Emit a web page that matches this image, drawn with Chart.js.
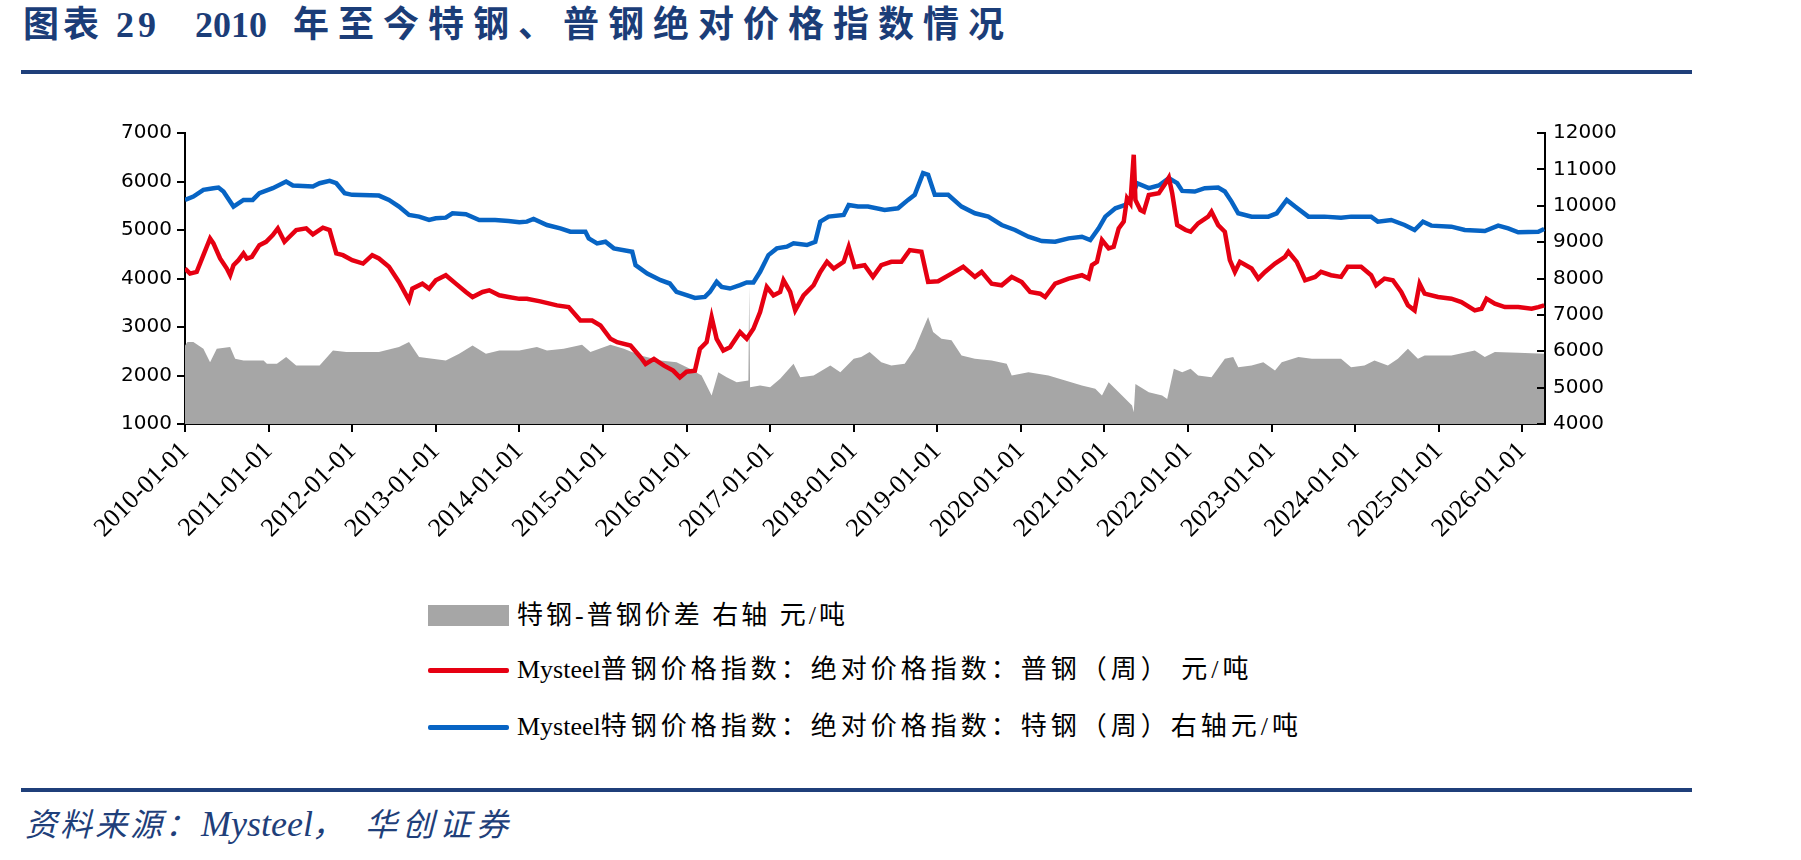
<!DOCTYPE html>
<html><head><meta charset="utf-8">
<script src="https://cdn.jsdelivr.net/npm/chart.js@4.4.1/dist/chart.umd.min.js"></script>
<style>
body{margin:0;background:#fff;}
#wrap{position:relative;width:1801px;height:860px;overflow:hidden;background:#fff}
.t{position:absolute;white-space:nowrap;line-height:1}
.title{font-family:"Liberation Serif","Noto Sans CJK SC",serif;font-weight:bold;font-size:36px;color:#1B3D78}
.leg{font-family:"Liberation Serif","Noto Sans CJK SC",serif;font-size:26px;letter-spacing:4px;color:#000}
.leg .lat{letter-spacing:0}
.src{font-family:'Liberation Serif','Noto Sans CJK SC',serif;font-style:italic;font-size:32px;color:#1F3F7A}
.rule{position:absolute;left:21px;width:1671px;height:4px;background:#1F3F7A}
</style></head><body>
<div id="wrap">
  <div class="t title" style="left:23px;top:7px;letter-spacing:4px">图表 29</div>
  <div class="t title" style="left:195px;top:7px">2010</div>
  <div class="t title" style="left:293px;top:7px;letter-spacing:9px">年至今特钢、普钢绝对价格指数情况</div>
  <div class="rule" style="top:70px"></div>
  <canvas id="c" width="1801" height="560" style="position:absolute;left:0;top:0"></canvas>
  <div style="position:absolute;left:428px;top:605px;width:81px;height:21px;background:#A6A6A6"></div>
  <div class="t leg" style="left:517px;top:603px;letter-spacing:3px">特钢-普钢价差 右轴 元/吨</div>
  <div style="position:absolute;left:428px;top:668px;width:81px;height:5px;background:#E60012;border-radius:2px"></div>
  <div class="t leg" style="left:517px;top:657px"><span class="lat">Mysteel</span>普钢价格指数：绝对价格指数：普钢（周） 元/吨</div>
  <div style="position:absolute;left:428px;top:725px;width:81px;height:5px;background:#0764C4;border-radius:2px"></div>
  <div class="t leg" style="left:517px;top:714px"><span class="lat">Mysteel</span>特钢价格指数：绝对价格指数：特钢（周）右轴元/吨</div>
  <div class="rule" style="top:788px"></div>
  <div class="t src" style="left:25px;top:809px;letter-spacing:3px">资料来源：</div>
  <div class="t src" style="left:201px;top:806px;font-size:36px">Mysteel</div>
  <div class="t src" style="left:312px;top:809px">，</div>
  <div class="t src" style="left:365px;top:809px;letter-spacing:5px">华创证券</div>
</div>
<script>
// ---- tick labels ----
const tickYears = [2010,2011,2012,2013,2014,2015,2016,2017,2018,2019,2020,2021,2022,2023,2024,2025,2026];
const tickLabels = ['2010-01-01','2011-01-01','2012-01-01','2013-01-01','2014-01-01','2015-01-01','2016-01-01','2017-01-01','2018-01-01','2019-01-01','2020-01-01','2021-01-01','2022-01-01','2023-01-01','2024-01-01','2025-01-01','2026-01-01'];
const leftTicks = [1000,2000,3000,4000,5000,6000,7000];
const rightTicks = [4000,5000,6000,7000,8000,9000,10000,11000,12000];

// ---- 普钢 (left axis), x in decimal years ----
const plainDates = [2010.00,2010.06,2010.14,2010.22,2010.30,2010.34,2010.42,2010.50,2010.54,2010.58,2010.64,2010.70,2010.74,2010.80,2010.89,2010.97,
2011.05,2011.11,2011.19,2011.25,2011.33,2011.45,2011.53,2011.65,2011.73,2011.81,2011.89,
2012.00,2012.13,2012.24,2012.32,2012.44,2012.56,2012.68,2012.72,2012.84,2012.92,
2013.00,2013.12,2013.24,2013.36,2013.44,2013.56,2013.64,2013.76,2013.87,
2014.00,2014.09,2014.25,2014.45,2014.59,2014.73,2014.87,2014.97,
2015.09,2015.17,2015.33,2015.45,2015.51,2015.61,2015.73,2015.84,2015.92,
2016.00,2016.10,2016.16,2016.24,2016.30,2016.36,2016.44,2016.52,2016.64,2016.72,2016.80,2016.88,2016.96,
2017.04,2017.12,2017.16,2017.24,2017.30,2017.40,2017.52,2017.60,2017.68,2017.76,2017.88,2017.94,
2018.01,2018.13,2018.23,2018.33,2018.45,2018.57,2018.67,2018.81,2018.89,
2019.01,2019.17,2019.31,2019.45,2019.53,2019.65,2019.77,2019.89,
2020.01,2020.11,2020.23,2020.29,2020.41,2020.57,2020.73,2020.81,2020.85,2020.91,2020.97,
2021.05,2021.11,2021.17,2021.23,2021.27,2021.31,2021.35,2021.37,2021.43,2021.47,2021.53,2021.65,2021.73,2021.77,2021.81,2021.87,2021.97,
2022.03,2022.12,2022.24,2022.28,2022.36,2022.44,2022.50,2022.56,2022.62,2022.76,2022.84,2022.92,
2023.04,2023.16,2023.20,2023.30,2023.40,2023.52,2023.59,2023.71,2023.83,2023.91,
2024.07,2024.19,2024.25,2024.35,2024.45,2024.55,2024.63,2024.71,2024.77,2024.83,2024.99,
2025.15,2025.27,2025.43,2025.51,2025.57,2025.67,2025.79,2025.95,2026.11,2026.19,2026.26];
const plainSteel = [4205,4101,4136,4481,4826,4723,4412,4205,4067,4274,4377,4516,4412,4447,4688,4757,
4895,5033,4757,4861,4999,5033,4909,5047,4999,4516,4481,
4377,4308,4481,4412,4240,3929,3549,3791,3894,3791,
3963,4067,3894,3722,3618,3722,3756,3653,3618,
3580,3584,3529,3446,3411,3135,3135,3032,
2756,2687,2618,2376,2238,2342,2204,2100,1962,
2079,2100,2549,2687,3204,2756,2514,2583,2894,2756,2963,3308,3825,
3653,3722,3963,3722,3342,3653,3860,4136,4343,4205,4343,4654,
4240,4274,4033,4274,4343,4343,4585,4550,3929,
3943,4101,4240,4033,4136,3894,3860,4033,
3929,3722,3687,3618,3894,3998,4067,3998,4274,4343,4792,
4619,4654,5033,5171,5654,5551,6551,5620,5413,5378,5723,5758,5965,6082,5758,5102,4999,
4964,5137,5275,5378,5102,4964,4377,4136,4343,4205,3998,4136,
4308,4447,4550,4343,3963,4033,4136,4067,4033,4240,
4240,4067,3860,3998,3963,3722,3446,3342,3894,3687,3618,
3584,3515,3342,3377,3584,3480,3411,3411,3377,3411,3446];

// ---- 特钢 (right axis) ----
const specialDates = [2010.00,2010.10,2010.22,2010.34,2010.40,2010.46,2010.58,2010.70,2010.81,2010.89,
2011.05,2011.21,2011.29,2011.53,2011.61,2011.73,2011.81,2011.91,
2012.00,2012.32,2012.44,2012.56,2012.68,2012.80,2012.92,
2013.00,2013.12,2013.20,2013.36,2013.52,2013.71,2013.87,
2014.00,2014.09,2014.17,2014.33,2014.49,2014.61,2014.79,2014.83,2014.93,
2015.03,2015.13,2015.35,2015.39,2015.53,2015.69,2015.80,2015.88,
2016.00,2016.10,2016.22,2016.28,2016.36,2016.42,2016.52,2016.64,2016.72,2016.80,2016.88,2016.98,
2017.08,2017.20,2017.28,2017.44,2017.54,2017.60,2017.70,2017.88,2017.94,
2018.05,2018.17,2018.37,2018.53,2018.65,2018.73,2018.83,2018.89,2018.97,
2019.13,2019.29,2019.45,2019.61,2019.77,2019.93,
2020.09,2020.25,2020.41,2020.57,2020.73,2020.83,2020.93,
2021.01,2021.13,2021.25,2021.33,2021.39,2021.53,2021.65,2021.77,2021.87,2021.93,
2022.08,2022.20,2022.36,2022.44,2022.52,2022.60,2022.76,2022.96,
2023.06,2023.18,2023.28,2023.44,2023.63,2023.83,2023.95,
2024.19,2024.27,2024.43,2024.59,2024.71,2024.81,2024.91,
2025.15,2025.31,2025.55,2025.71,2025.83,2025.95,2026.19,2026.26];
const specialSteel = [10161,10253,10437,10483,10500,10390,9977,10161,10161,10345,
10483,10667,10556,10529,10620,10685,10620,10345,
10299,10280,10161,9977,9747,9701,9609,
9655,9673,9793,9765,9609,9609,9582,
9545,9563,9637,9471,9379,9287,9287,9103,8966,
9011,8828,8736,8368,8138,7954,7862,7632,
7540,7467,7494,7632,7908,7770,7724,7816,7890,7890,8184,8644,
8828,8874,8966,8920,9011,9563,9701,9747,10023,
9977,9977,9885,9931,10161,10299,10897,10850,10299,
10299,9977,9793,9701,9471,9333,
9149,9030,9011,9103,9149,9057,9379,
9701,9931,10023,10253,10621,10483,10556,10759,10621,10409,
10391,10483,10500,10391,10115,9793,9701,9701,
9793,10161,9977,9701,9701,9673,9701,
9701,9563,9609,9471,9333,9563,9453,
9425,9333,9306,9453,9379,9269,9287,9361];

// ---- 特钢-普钢价差 (right axis) ----
const spreadDates = [2010.00,2010.03,2010.10,2010.22,2010.30,2010.38,2010.54,2010.60,2010.70,2010.94,2010.98,
2011.10,2011.21,2011.33,2011.61,2011.77,2011.93,
2012.32,2012.56,2012.68,2012.80,
2013.12,2013.28,2013.44,2013.60,2013.76,
2014.00,2014.21,2014.33,2014.53,2014.75,2014.85,
2015.09,2015.25,2015.45,2015.69,2015.88,
2016.04,2016.18,2016.30,2016.38,2016.48,2016.60,2016.74,2016.75,2016.76,2016.88,
2017.00,2017.12,2017.28,2017.36,2017.52,2017.72,2017.84,
2018.00,2018.09,2018.19,2018.33,2018.45,2018.61,2018.73,2018.83,2018.89,2018.95,
2019.05,2019.17,2019.29,2019.45,2019.65,2019.83,2019.89,
2020.09,2020.33,2020.53,2020.73,2020.89,2020.97,
2021.05,2021.21,2021.33,2021.35,2021.37,2021.53,2021.69,2021.75,2021.83,2021.93,
2022.03,2022.12,2022.28,2022.44,2022.54,2022.60,2022.76,2022.90,
2023.04,2023.12,2023.32,2023.48,2023.83,2023.95,
2024.11,2024.23,2024.39,2024.51,2024.63,2024.75,2024.83,
2025.15,2025.43,2025.55,2025.67,2025.95,2026.26];
const steelSpread = [6160,6253,6253,6069,5701,6069,6115,5793,5747,5747,5655,
5655,5839,5609,5609,6023,5977,
5977,6115,6253,5839,
5747,5931,6161,5931,6023,
6023,6115,6023,6069,6179,5977,
6179,6069,5885,5747,5701,
5517,5333,4782,5425,5287,5149,5195,7816,5011,5057,
5011,5241,5655,5287,5333,5609,5425,
5793,5839,5977,5701,5609,5655,6069,6621,6943,6529,
6345,6299,5885,5793,5747,5655,5333,
5425,5333,5195,5057,4966,4782,
5149,4782,4506,4322,5103,4874,4782,4690,5517,5425,
5517,5333,5287,5793,5839,5563,5609,5701,
5471,5701,5839,5793,5793,5563,
5609,5747,5609,5793,6069,5793,5885,
5885,6023,5839,5977,5960,5931];

const toXY = (xs, ys) => xs.map((x, i) => ({x, y: ys[i]}));

const innerTicks = {
  id: 'innerTicks',
  afterDraw(chart) {
    const s = chart.scales.y1, ctx = chart.ctx;
    ctx.save();
    ctx.strokeStyle = '#000'; ctx.lineWidth = 2;
    s.ticks.forEach(t => {
      const y = Math.round(s.getPixelForValue(t.value));
      ctx.beginPath(); ctx.moveTo(s.left, y); ctx.lineTo(s.left - 8, y); ctx.stroke();
    });
    ctx.restore();
  }
};

function draw() {
  new Chart(document.getElementById('c'), {
    type: 'line',
    data: {
      datasets: [
        {label: 'Mysteel普钢价格指数：绝对价格指数：普钢（周） 元/吨', data: toXY(plainDates, plainSteel), yAxisID: 'y',
         borderColor: '#E60012', borderWidth: 4.5, pointRadius: 0, tension: 0, fill: false},
        {label: 'Mysteel特钢价格指数：绝对价格指数：特钢（周）右轴元/吨', data: toXY(specialDates, specialSteel), yAxisID: 'y1',
         borderColor: '#0764C4', borderWidth: 4.5, pointRadius: 0, tension: 0, fill: false},
        {label: '特钢-普钢价差 右轴 元/吨', data: toXY(spreadDates, steelSpread), yAxisID: 'y1',
         borderColor: 'rgba(0,0,0,0)', borderWidth: 0, backgroundColor: '#A6A6A6', pointRadius: 0, tension: 0, fill: 'start'}
      ]
    },
    options: {
      responsive: false, animation: false, devicePixelRatio: 1,
      layout: {padding: {top: 133, left: 0, right: 0, bottom: 0}},
      plugins: {legend: {display: false}, tooltip: {enabled: false}},
      scales: {
        x: {
          type: 'linear', min: 2010, max: 2026.27,
          afterBuildTicks(s) { s.ticks = tickYears.map(v => ({value: v})); },
          afterFit(s) { s.height = 136; },
          ticks: {callback: (v) => tickLabels[tickYears.indexOf(v)] || '', minRotation: 45, maxRotation: 45, autoSkip: false,
                  color: '#000', padding: 4, font: {family: 'Liberation Serif', size: 26}},
          grid: {drawOnChartArea: false, drawTicks: true, tickLength: 8, color: '#000', lineWidth: 2},
          border: {display: true, color: '#000', width: 2}
        },
        y: {
          position: 'left', min: 1000, max: 7000,
          afterBuildTicks(s) { s.ticks = leftTicks.map(v => ({value: v})); },
          afterFit(s) { s.width = 185; },
          ticks: {callback: (v) => String(v), color: '#000', padding: 5, font: {family: 'DejaVu Sans', size: 20}},
          grid: {drawOnChartArea: false, drawTicks: true, tickLength: 8, color: '#000', lineWidth: 2},
          border: {display: true, color: '#000', width: 2}
        },
        y1: {
          position: 'right', min: 4000, max: 12000,
          afterBuildTicks(s) { s.ticks = rightTicks.map(v => ({value: v})); },
          afterFit(s) { s.width = 256; },
          ticks: {callback: (v) => String(v), color: '#000', padding: 8, font: {family: 'DejaVu Sans', size: 20}},
          grid: {drawOnChartArea: false, drawTicks: false, color: '#000'},
          border: {display: true, color: '#000', width: 2}
        }
      }
    },
    plugins: [innerTicks]
  });
}
Promise.all([
  document.fonts.load('20px "DejaVu Sans"'),
  document.fonts.load('26px "Liberation Serif"')
]).then(draw, draw);
</script>
</body></html>
